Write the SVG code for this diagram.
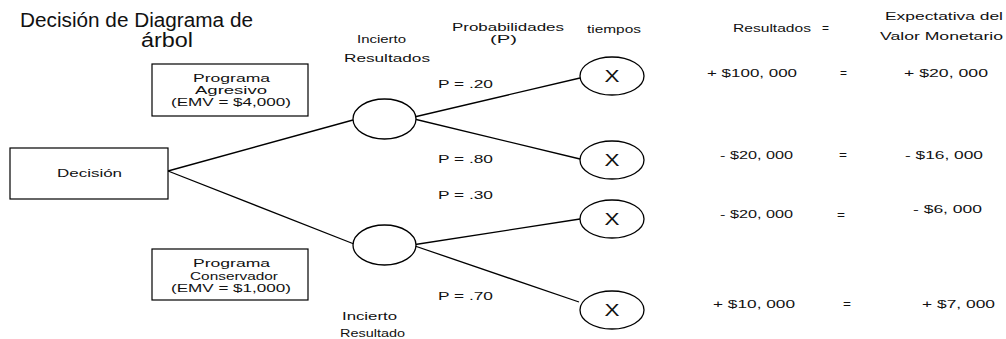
<svg xmlns="http://www.w3.org/2000/svg" width="1006" height="339" viewBox="0 0 1006 339">
<style>
text{font-family:"Liberation Sans",Arial,sans-serif;font-size:11px;fill:#111}
.t{font-size:20px}
.x{font-size:17px}
.box{fill:#fff;stroke:#000;stroke-width:1.2}
.node{fill:#fff;stroke:#000;stroke-width:1.3}
.edge{stroke:#000;stroke-width:1.3;fill:none}
</style>
<rect width="1006" height="339" fill="#fff"/>
<g id="title">
<text class="t" x="20" y="27" textLength="233" lengthAdjust="spacingAndGlyphs">Decisión de Diagrama de</text>
<text class="t" x="141" y="47" textLength="52" lengthAdjust="spacingAndGlyphs">árbol</text>
</g>
<g id="headers">
<text x="357" y="43" textLength="49" lengthAdjust="spacingAndGlyphs">Incierto</text>
<text x="344" y="62" textLength="86" lengthAdjust="spacingAndGlyphs">Resultados</text>
<text x="452" y="31" textLength="112" lengthAdjust="spacingAndGlyphs">Probabilidades</text>
<text x="490" y="43" textLength="27" lengthAdjust="spacingAndGlyphs">(P)</text>
<text x="587" y="33" textLength="54" lengthAdjust="spacingAndGlyphs">tiempos</text>
<text x="733" y="32" textLength="78" lengthAdjust="spacingAndGlyphs">Resultados</text>
<text x="822" y="32" textLength="7" lengthAdjust="spacingAndGlyphs">=</text>
<text x="885" y="20" textLength="118" lengthAdjust="spacingAndGlyphs">Expectativa del</text>
<text x="880" y="40" textLength="123" lengthAdjust="spacingAndGlyphs">Valor Monetario</text>
</g>
<g id="connectors">
<line class="edge" x1="168" y1="171" x2="353" y2="120"/>
<line class="edge" x1="168" y1="171" x2="354" y2="244"/>
<line class="edge" x1="410" y1="118" x2="580" y2="78"/>
<line class="edge" x1="410" y1="118" x2="580" y2="159"/>
<line class="edge" x1="412" y1="245" x2="580" y2="219"/>
<line class="edge" x1="412" y1="245" x2="579" y2="302"/>
</g>
<g id="decision">
<rect class="box" x="10" y="148" width="158" height="51"/>
<text x="57" y="177" textLength="65" lengthAdjust="spacingAndGlyphs">Decisión</text>
</g>
<g id="agresivo">
<rect class="box" x="152" y="64" width="156" height="52"/>
<text x="193" y="82" textLength="77" lengthAdjust="spacingAndGlyphs">Programa</text>
<text x="195" y="94" textLength="72" lengthAdjust="spacingAndGlyphs">Agresivo</text>
<text x="171" y="106" textLength="120" lengthAdjust="spacingAndGlyphs">(EMV = $4,000)</text>
</g>
<g id="conservador">
<rect class="box" x="152" y="249" width="156" height="51"/>
<text x="193" y="267" textLength="77" lengthAdjust="spacingAndGlyphs">Programa</text>
<text x="190" y="280" textLength="88" lengthAdjust="spacingAndGlyphs">Conservador</text>
<text x="171" y="292" textLength="120" lengthAdjust="spacingAndGlyphs">(EMV = $1,000)</text>
</g>
<g id="chance1">
<ellipse class="node" cx="384.5" cy="119" rx="31.5" ry="20"/>
</g>
<g id="chance2">
<ellipse class="node" cx="384.5" cy="245" rx="31.5" ry="20"/>
</g>
<g id="outcome1">
<ellipse class="node" cx="612" cy="76" rx="32" ry="19"/>
<text class="x" x="604.5" y="82" textLength="15" lengthAdjust="spacingAndGlyphs">X</text>
</g>
<g id="outcome2">
<ellipse class="node" cx="612" cy="160" rx="32" ry="19"/>
<text class="x" x="604.5" y="166" textLength="15" lengthAdjust="spacingAndGlyphs">X</text>
</g>
<g id="outcome3">
<ellipse class="node" cx="612" cy="219" rx="32" ry="19"/>
<text class="x" x="604.5" y="225" textLength="15" lengthAdjust="spacingAndGlyphs">X</text>
</g>
<g id="outcome4">
<ellipse class="node" cx="612" cy="310" rx="32" ry="19"/>
<text class="x" x="604.5" y="316" textLength="15" lengthAdjust="spacingAndGlyphs">X</text>
</g>
<g id="probabilities">
<text x="438" y="88" textLength="55" lengthAdjust="spacingAndGlyphs">P = .20</text>
<text x="438" y="163" textLength="55" lengthAdjust="spacingAndGlyphs">P = .80</text>
<text x="438" y="199" textLength="55" lengthAdjust="spacingAndGlyphs">P = .30</text>
<text x="438" y="300" textLength="55" lengthAdjust="spacingAndGlyphs">P = .70</text>
</g>
<g id="lower-label">
<text x="342" y="320" textLength="55" lengthAdjust="spacingAndGlyphs">Incierto</text>
<text x="340" y="337" textLength="65" lengthAdjust="spacingAndGlyphs">Resultado</text>
</g>
<g id="results">
<text x="707" y="77" textLength="90" lengthAdjust="spacingAndGlyphs">+ $100, 000</text>
<text x="840" y="77" textLength="7" lengthAdjust="spacingAndGlyphs">=</text>
<text x="904" y="77" textLength="84" lengthAdjust="spacingAndGlyphs">+ $20, 000</text>
<text x="720" y="159" textLength="73" lengthAdjust="spacingAndGlyphs">- $20, 000</text>
<text x="839" y="159" textLength="8" lengthAdjust="spacingAndGlyphs">=</text>
<text x="905" y="159" textLength="78" lengthAdjust="spacingAndGlyphs">- $16, 000</text>
<text x="720" y="218" textLength="73" lengthAdjust="spacingAndGlyphs">- $20, 000</text>
<text x="837" y="219" textLength="8" lengthAdjust="spacingAndGlyphs">=</text>
<text x="913" y="213" textLength="69" lengthAdjust="spacingAndGlyphs">- $6, 000</text>
<text x="713" y="308" textLength="82" lengthAdjust="spacingAndGlyphs">+ $10, 000</text>
<text x="843" y="308" textLength="8" lengthAdjust="spacingAndGlyphs">=</text>
<text x="922" y="308" textLength="73" lengthAdjust="spacingAndGlyphs">+ $7, 000</text>
</g>
</svg>
